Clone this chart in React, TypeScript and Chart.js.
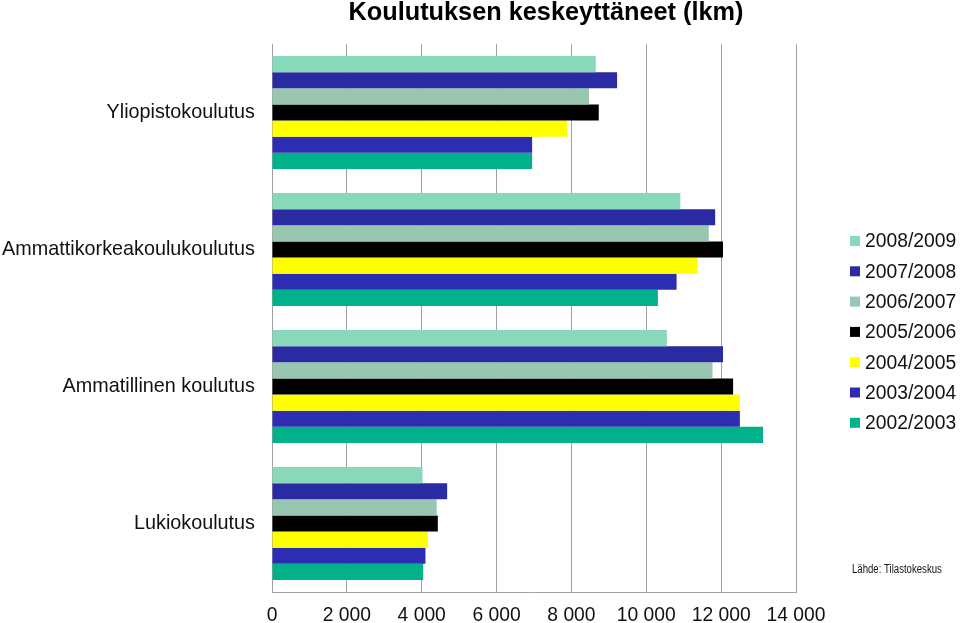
import React, { useEffect, useRef } from "react";
import { Chart, registerables } from "chart.js";

Chart.register(...registerables);

const categories = [
  "Yliopistokoulutus",
  "Ammattikorkeakoulukoulutus",
  "Ammatillinen koulutus",
  "Lukiokoulutus",
];

const seriesLabels = [
  "2008/2009",
  "2007/2008",
  "2006/2007",
  "2005/2006",
  "2004/2005",
  "2003/2004",
  "2002/2003",
];

const v0809 = [8650, 10910, 10550, 4020];
const v0708 = [9220, 11840, 12050, 4680];
const v0607 = [8470, 11670, 11770, 4400];
const v0506 = [8730, 12050, 12320, 4430];
const v0405 = [7880, 11360, 12500, 4170];
const v0304 = [6950, 10810, 12500, 4100];
const v0203 = [6950, 10310, 13120, 4040];

const seriesValues = [v0809, v0708, v0607, v0506, v0405, v0304, v0203];

const seriesColors = [
  "#88D9B9",
  "#2A2AA2",
  "#98C6B0",
  "#000000",
  "#FFFF00",
  "#2D2DB3",
  "#00B189",
];

const xTicks = [0, 2000, 4000, 6000, 8000, 10000, 12000, 14000];

const titleText = "Koulutuksen keskeyttäneet (lkm)";
const sourceText = "Lähde: Tilastokeskus";

const FONT = "'Liberation Sans', Arial, Helvetica, sans-serif";

function fmt(v: number): string {
  return String(v).replace(/\B(?=(\d{3})+(?!\d))/g, " ");
}

const decorPlugin = {
  id: "decor",
  afterDraw(chart: any) {
    const ctx = chart.ctx as CanvasRenderingContext2D;
    ctx.save();
    // title
    ctx.fillStyle = "#000";
    ctx.font = `bold 25.3px ${FONT}`;
    ctx.textAlign = "center";
    ctx.textBaseline = "alphabetic";
    ctx.fillText(titleText, 546, 20);

    // legend
    const ds = chart.data.datasets;
    ctx.font = `19.3px ${FONT}`;
    ctx.textAlign = "left";
    ctx.textBaseline = "middle";
    for (let i = 0; i < ds.length; i++) {
      const y = 241 + i * 30.3;
      ctx.fillStyle = ds[i].backgroundColor;
      ctx.fillRect(850, y - 5, 10, 10);
      ctx.fillStyle = "#111";
      ctx.fillText(ds[i].label, 865, y + 1);
    }
    ctx.restore();

    // source (condensed)
    ctx.save();
    ctx.font = `12px ${FONT}`;
    ctx.fillStyle = "#111";
    ctx.textAlign = "left";
    ctx.textBaseline = "middle";
    ctx.translate(852, 570);
    ctx.scale(0.8, 1);
    ctx.fillText(sourceText, 0, 0);
    ctx.restore();
  },
};

export default function App() {
  const ref = useRef<HTMLCanvasElement | null>(null);

  useEffect(() => {
    if (!ref.current) return;
    const chart = new Chart(ref.current, {
      type: "bar",
      data: {
        labels: categories,
        datasets: seriesLabels.map((label, i) => ({
          label,
          data: seriesValues[i],
          backgroundColor: seriesColors[i],
          borderWidth: 0,
          barPercentage: 1,
          categoryPercentage: 0.825,
        })),
      },
      options: {
        indexAxis: "y",
        responsive: false,
        animation: false,
        layout: { padding: { top: 44, right: 164, bottom: 0, left: 0 } },
        plugins: {
          legend: { display: false },
          title: { display: false },
          tooltip: { enabled: false },
        },
        scales: {
          x: {
            min: 0,
            max: 14000,
            afterBuildTicks: (s: any) => {
              s.ticks = xTicks.map((v) => ({ value: v }));
            },
            afterFit: (s: any) => {
              s.height = 31;
            },
            ticks: {
              callback: (v: any) => fmt(Number(v)),
              font: { family: FONT, size: 19.3 },
              color: "#111",
              padding: 12,
              maxRotation: 0,
              autoSkip: false,
            },
            grid: {
              color: "#A0A0A0",
              lineWidth: 1,
              drawTicks: false,
            },
            border: { color: "#A0A0A0", width: 1 },
          },
          y: {
            afterFit: (s: any) => {
              s.width = 272;
            },
            ticks: {
              font: { family: FONT, size: 19.8 },
              color: "#111",
              padding: 17,
            },
            grid: { display: false, drawTicks: false },
            border: { color: "#A0A0A0", width: 1 },
          },
        },
      },
      plugins: [decorPlugin],
    });
    return () => chart.destroy();
  }, []);

  return (
    <div style={{ position: "fixed", left: 0, top: 0, width: 960, height: 623, background: "#fff" }}>
      <canvas ref={ref} width={960} height={623} style={{ display: "block" }} />
    </div>
  );
}
